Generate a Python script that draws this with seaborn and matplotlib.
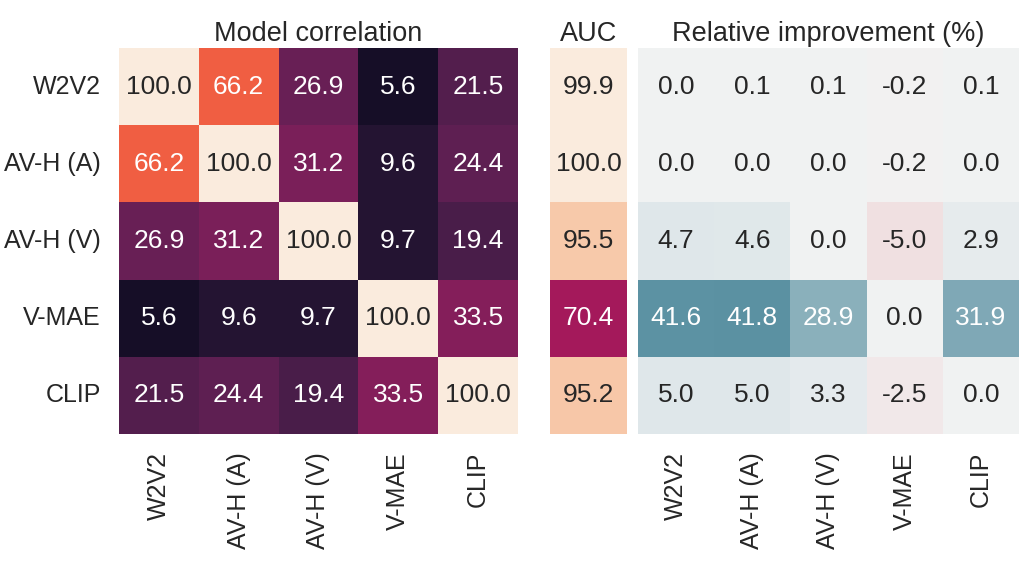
import numpy as np
import pandas as pd
import seaborn as sns
import matplotlib.pyplot as plt

# =========================
# DATA
# =========================

models = ["W2V2", "AV-H (A)", "AV-H (V)", "V-MAE", "CLIP"]

corr_w2v2 = [100.0, 66.2, 26.9, 5.6, 21.5]
corr_avh_a = [66.2, 100.0, 31.2, 9.6, 24.4]
corr_avh_v = [26.9, 31.2, 100.0, 9.7, 19.4]
corr_vmae = [5.6, 9.6, 9.7, 100.0, 33.5]
corr_clip = [21.5, 24.4, 19.4, 33.5, 100.0]

auc = [99.9, 100.0, 95.5, 70.4, 95.2]

impr_w2v2 = [0.0, 0.1, 0.1, -0.2, 0.1]
impr_avh_a = [0.0, 0.0, 0.0, -0.2, 0.0]
impr_avh_v = [4.7, 4.6, 0.0, -5.0, 2.9]
impr_vmae = [41.6, 41.8, 28.9, 0.0, 31.9]
impr_clip = [5.0, 5.0, 3.3, -2.5, 0.0]

corr_df = pd.DataFrame(
    [corr_w2v2, corr_avh_a, corr_avh_v, corr_vmae, corr_clip],
    index=models, columns=models
)
auc_df = pd.DataFrame({"AUC": auc}, index=models)
impr_df = pd.DataFrame(
    [impr_w2v2, impr_avh_a, impr_avh_v, impr_vmae, impr_clip],
    index=models, columns=models
)

# =========================
# PLOT
# =========================

sns.set_theme(style="white")
plt.rcParams["font.family"] = ["Liberation Sans", "DejaVu Sans"]

fig = plt.figure(figsize=(10.24, 5.61), dpi=100)

bottom = 1 - 434 / 561
height = 386 / 561
ax_corr = fig.add_axes([119 / 1024, bottom, 399 / 1024, height])
ax_auc = fig.add_axes([550 / 1024, bottom, 77 / 1024, height])
ax_impr = fig.add_axes([638 / 1024, bottom, 381 / 1024, height])

annot_kws = {"fontsize": 19}

sns.heatmap(corr_df, ax=ax_corr, cmap="rocket", vmin=0, vmax=100, annot=True,
            fmt=".1f", cbar=False, annot_kws=annot_kws)
sns.heatmap(auc_df, ax=ax_auc, cmap="rocket", vmin=50, vmax=100, annot=True,
            fmt=".1f", cbar=False, annot_kws=annot_kws,
            xticklabels=False, yticklabels=False)
impr_cmap = sns.diverging_palette(10, 220, as_cmap=True)
sns.heatmap(impr_df, ax=ax_impr, cmap=impr_cmap, center=0, vmin=-50, vmax=50,
            annot=True, fmt=".1f", cbar=False, annot_kws=annot_kws,
            yticklabels=False)

ax_corr.set_title("Model correlation", fontsize=19.5, pad=5)
ax_auc.set_title("AUC", fontsize=19.5, pad=5)
ax_impr.set_title("Relative improvement (%)", fontsize=19.5, pad=5)

for ax in [ax_corr, ax_auc, ax_impr]:
    ax.tick_params(length=0, pad=13, labelsize=18)
    ax.set_xlabel("")
    ax.set_ylabel("")

ax_corr.set_yticklabels(models, rotation=0)
ax_corr.set_xticklabels(models, rotation=90)
ax_impr.set_xticklabels(models, rotation=90)

fig.savefig("out.png", dpi=100)
